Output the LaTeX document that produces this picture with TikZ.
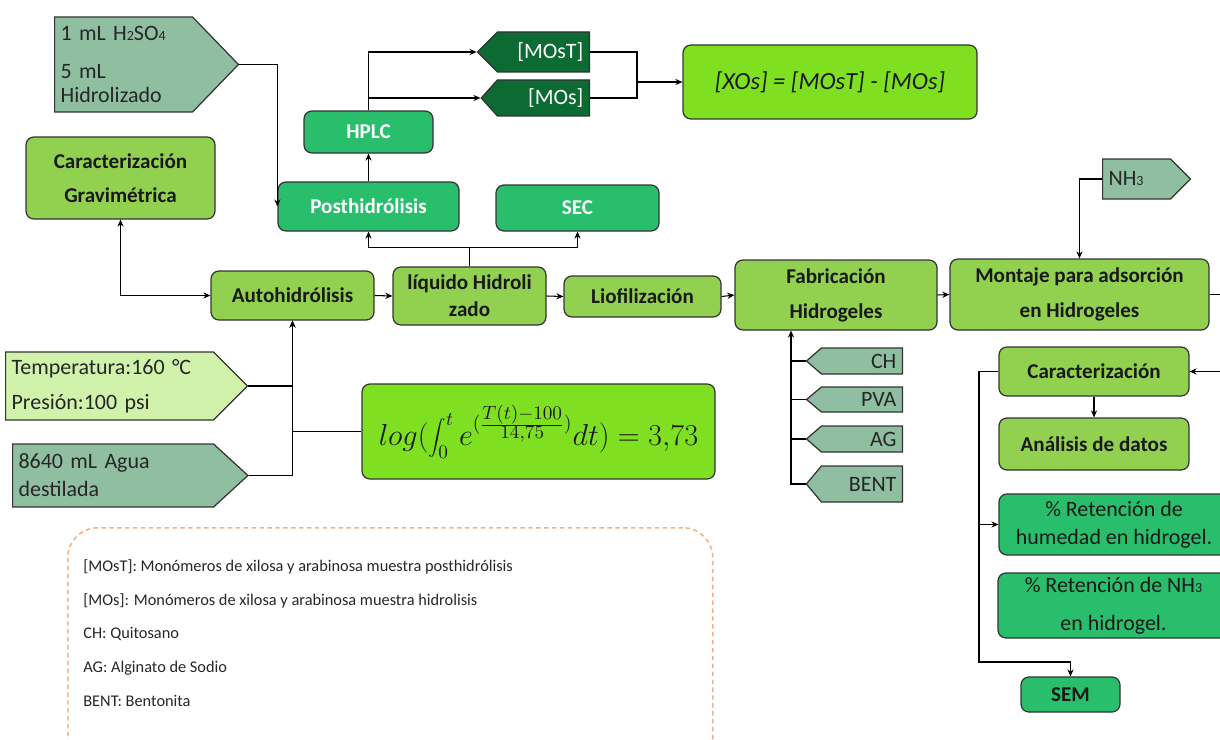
\documentclass[tikz,border=0pt]{standalone}
\usepackage{fontspec}
\setmainfont{Carlito}
\usetikzlibrary{shapes.symbols,arrows.meta}
\definecolor{verdeclaro}{HTML}{92D050}
\definecolor{verdemedio}{HTML}{28BE6B}
\definecolor{verdeoscuro}{HTML}{0B6B32}
\definecolor{verdelima}{HTML}{7EE021}
\definecolor{verdegris}{HTML}{8FBFA0}
\definecolor{verdepalido}{HTML}{D0F2AA}
\definecolor{borde}{HTML}{333333}
\definecolor{naranja}{HTML}{F4B183}
\newcommand{\peq}[1]{{\fontsize{8}{8}\selectfont #1}}
\tikzset{
  tam/.style 2 args={minimum width=#1*0.02cm, minimum height=#2*0.02cm},
  ancho/.style={text width=#1*0.02cm}
}
\begin{document}
\begin{tikzpicture}[
  x=0.02cm, y=-0.02cm,
  caja/.style={draw=borde, line width=0.7pt, rounded corners=4.5pt, fill=verdeclaro,
    text=black!90, align=center, inner sep=1pt, font=\fontsize{12}{19}\selectfont\bfseries},
  cajam/.style={caja, fill=verdemedio, text=white},
  entrada/.style={draw=borde, line width=0.7pt, fill=verdegris, signal, signal to=east,
    signal from=nowhere, signal pointer angle=90, anchor=west, inner xsep=3.4pt,
    inner ysep=1pt, align=left, text=black!85, font=\fontsize{12.5}{15}\selectfont},
  insumo/.style={entrada, signal to=west, anchor=east, align=right},
  linea/.style={line width=0.6pt},
  flecha/.style={linea, -{Stealth[length=4pt,width=3.5pt]}},
  doble/.style={linea, {Stealth[length=4pt,width=3.5pt]}-{Stealth[length=4pt,width=3.5pt]}}
]
\useasboundingbox (0,0) rectangle (1220,740);

\node[entrada, ancho=126, tam={0}{95}, signal pointer angle=92,
  font=\fontsize{12.5}{13.6}\selectfont] (acido) at (54,64.5)
  {1 mL H\peq{2}SO\peq{4}\\[7.9pt]5 mL\\Hidrolizado};
\node[entrada, fill=verdepalido, ancho=196, tam={0}{68},
  font=\fontsize{12.5}{20}\selectfont] (temp) at (5,386)
  {Temperatura:160 °C\\Presión:100 psi};
\node[entrada, ancho=189, tam={0}{63}, signal pointer angle=85,
  font=\fontsize{12.5}{16}\selectfont] (agua) at (12,475.5)
  {8640 mL Agua\\destilada};
\node[entrada, ancho=56, tam={0}{40}] (amoniaco) at (1102,179) {NH\peq{3}};

\node[insumo, fill=verdeoscuro, text=white, ancho=80, tam={0}{40}] (most) at (590,52) {[MOsT]};
\node[insumo, fill=verdeoscuro, text=white, ancho=80, tam={0}{36}, signal pointer angle=96] (mos) at (590,98) {[MOs]};
\node[insumo, ancho=69, tam={0}{26}, signal pointer angle=82] (ch) at (903,361) {CH};
\node[insumo, ancho=69, tam={0}{25}, signal pointer angle=80] (pva) at (903,399.5) {PVA};
\node[insumo, ancho=69, tam={0}{26}, signal pointer angle=82] (ag) at (903,439) {AG};
\node[insumo, ancho=69, tam={0}{36}, signal pointer angle=100] (bent) at (903,484) {BENT};

\node[caja, tam={189}{82}] (cargrav) at (120.5,178) {Caracterización\\Gravimétrica};
\node[caja, tam={163}{49}] (autoh) at (292.5,295.5) {Autohidrólisis};
\node[caja, tam={153}{58}, font=\fontsize{12}{15.3}\selectfont\bfseries] (liq) at (469.5,296) {líquido Hidroli\\zado};
\node[caja, tam={157}{41}] (liof) at (642.5,296.5) {Liofilización};
\node[caja, tam={202}{70}, font=\fontsize{12}{20}\selectfont\bfseries] (fab) at (836,295) {Fabricación\\Hidrogeles};
\node[caja, tam={259}{71}, font=\fontsize{12}{20}\selectfont\bfseries] (mont) at (1079.5,294.5) {Montaje para adsorción\\en Hidrogeles};
\node[caja, tam={190}{49}] (carac) at (1094,371.5) {Caracterización};
\node[caja, tam={190}{52}] (anal) at (1094,444) {Análisis de datos};

\node[cajam, tam={181}{49}] (posth) at (368.5,206.5) {Posthidrólisis};
\node[cajam, tam={129}{42}] (hplc) at (368.5,132) {HPLC};
\node[cajam, tam={163}{46}] (sec) at (577.5,208) {SEC};
\node[cajam, tam={230}{61}, text=black!90, font=\fontsize{12.5}{16}\selectfont] (hum) at (1114,524.5)
  {\% Retención de\\humedad en hidrogel.};
\node[cajam, tam={231}{65}, text=black!90, font=\fontsize{12.5}{21.5}\selectfont] (ret) at (1113.5,605.5)
  {\% Retención de NH\peq{3}\\en hidrogel.};
\node[cajam, tam={99}{35}, text=black!90] (sem) at (1070.5,694.5) {SEM};

\node[caja, fill=verdelima, tam={294}{74}, font=\fontsize{14}{16}\selectfont\itshape] (xos) at (830,82)
  {[XOs] = [MOsT] - [MOs]};
\node[caja, fill=verdelima, tam={353}{95}, font=\fontsize{16}{18}\selectfont] (formula) at (538.5,431.5)
  {$\displaystyle log(\int_0^t e^{(\frac{\scriptstyle T(t)-100}{\scriptstyle 14{,}75})}dt) = 3{,}73$};

\node[draw=naranja, line width=0.9pt, dash pattern=on 2.5pt off 2pt, rounded corners=17pt,
  tam={645}{250}, anchor=north west] (ley) at (67,527) {};
\node[anchor=north west, align=left, inner sep=0pt, text=black!85,
  font=\fontsize{9.3}{19.3}\selectfont] (leytxt) at (83,559)
  {[MOsT]: Monómeros de xilosa y arabinosa muestra posthidrólisis\\
   {[MOs]}: Monómeros de xilosa y arabinosa muestra hidrolisis\\
   CH: Quitosano\\
   AG: Alginato de Sodio\\
   BENT: Bentonita};

\draw[flecha] (acido.east) -| (posth.west);
\draw[flecha] (posth.north) -- (hplc.south);
\draw[flecha] (hplc.north) |- (most.west);
\draw[flecha] (hplc.north) |- (mos.west);
\coordinate (union) at (637,82);
\draw[linea] (most.east) -| (union) |- (mos.east);
\draw[flecha] (union) -- (xos.west);
\draw[doble] (autoh.west) -| (cargrav.south);
\draw[flecha] (autoh.east) -- (liq.west);
\draw[flecha] (temp.east) -| (autoh.south);
\draw[flecha] (agua.east) -| (autoh.south);
\draw[linea] (formula.west) -- (formula.west -| autoh.south);
\draw[flecha] (liq.north) -- ++(0,-19) -| (posth.south);
\draw[flecha] (liq.north) -- ++(0,-19) -| (sec.south);
\draw[flecha] (liq.east) -- (liof.west);
\draw[flecha] (liof.east) -- (fab.west);
\draw[flecha] (fab.east) -- (mont.west);
\coordinate (colector) at (791,484);
\draw[flecha] (bent.west) -- (colector) -- (colector |- fab.south);
\foreach \n in {ch,pva,ag} \draw[linea] (\n.west) -- (\n.west -| colector);
\draw[flecha] (amoniaco.west) -| (mont.north);
\draw[flecha] (mont.east) -- ++(30,0) |- (carac.east);
\draw[flecha] (carac.south) -- (anal.north);
\coordinate (bajada) at (979,662);
\draw[flecha] (carac.west) -| (bajada) -| (sem.north);
\draw[flecha] (carac.west -| bajada) |- (hum.west);
\end{tikzpicture}
\end{document}
